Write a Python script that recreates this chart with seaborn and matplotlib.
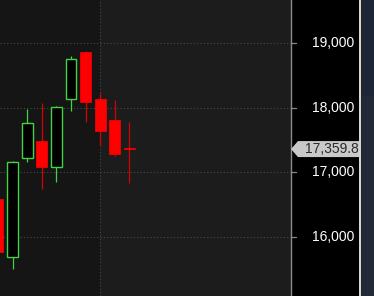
import matplotlib
matplotlib.use("Agg")
import matplotlib.pyplot as plt
from matplotlib.patches import Rectangle, Polygon
import seaborn as sns
import pandas as pd
import numpy as np

# ---- data ----
idx = [0, 1, 2, 3, 4, 5, 6, 7, 8, 9]
opens = [16589, 15692, 17223, 17485, 17083, 18134, 18861, 18134, 17810, 17375]
highs = [16620, 17180, 17980, 18073, 18020, 18800, 18870, 18227, 18119, 17779]
lows = [15740, 15507, 17161, 16743, 16852, 17949, 17779, 17423, 17253, 16836]
closes = [15770, 17161, 17764, 17083, 18011, 18753, 18088, 17640, 17284, 17359.8]
yticks = [16000, 17000, 18000, 19000]
ytick_labels = ["16,000", "17,000", "18,000", "19,000"]
last_price_label = "17,359.8"
last_price = 17359.8

df = pd.DataFrame({"i": idx, "open": opens, "high": highs, "low": lows, "close": closes})
df["up"] = df["close"] >= df["open"]

sns.set_theme(style="dark")
plt.rcParams["font.family"] = ["Liberation Sans", "DejaVu Sans"]

W, H = 374, 296
fig = plt.figure(figsize=(W / 100, H / 100), dpi=100)
fig.patch.set_facecolor("#000000")

ax = fig.add_axes([0, 0, 291 / W, 1])
ax.set_facecolor("#1c1c1c")
ax.set_xlim(0.137, 20.07)
ax.set_ylim(15088, 19665)

# darker left region
ax.axvspan(0.137, 6.99, color="#151515", zorder=0, lw=0)

# grid
for t in yticks:
    ax.axhline(t, color="#4a4a4a", lw=0.8, ls=(0, (1, 2)), zorder=1)
ax.axvline(6.99, color="#4a4a4a", lw=0.8, ls=(0, (1, 2)), zorder=1)

green = "#44d144"
red = "#ff0000"
bw = 0.75

for _, r in df.iterrows():
    if r["up"]:
        ax.vlines(r["i"], r["low"], r["high"], color=green, lw=0.9, zorder=2)
        ax.bar(r["i"], r["close"] - r["open"], bottom=r["open"], width=bw,
               facecolor="#000000", edgecolor=green, lw=1.0, zorder=3)
    else:
        ax.vlines(r["i"], r["low"], r["high"], color="#d80000", lw=0.9, zorder=2)
        hgt = r["open"] - r["close"]
        if hgt < 15:
            ax.hlines(r["close"], r["i"] - bw / 2, r["i"] + bw / 2, color="#d80000", lw=0.9, zorder=3)
        else:
            ax.bar(r["i"], hgt, bottom=r["close"], width=bw,
                   facecolor=red, edgecolor=red, lw=0.5, zorder=3)

ax.set_xticks([])
ax.set_yticks([])
for s in ["top", "left", "bottom"]:
    ax.spines[s].set_visible(False)
ax.spines["right"].set_visible(True)
ax.spines["right"].set_color("#8a8a8a")
ax.spines["right"].set_linewidth(1.0)

# tick marks and labels on the right
for t, lab in zip(yticks, ytick_labels):
    ax.plot([1.0, 1.0 + 5 / 291], [t, t], transform=ax.get_yaxis_transform(),
            color="#8a8a8a", lw=0.9, clip_on=False)
    ax.text(354 / 291, t, lab, transform=ax.get_yaxis_transform(), ha="right",
            va="center", color="#ffffff", fontsize=10, clip_on=False)

# right strip
fig.patches.append(Rectangle((359 / W, 0), 1.5 / W, 1, transform=fig.transFigure,
                             facecolor="#d8d6c4", lw=0))
fig.patches.append(Rectangle((360.5 / W, 0), (W - 360.5) / W, 1, transform=fig.transFigure,
                             facecolor="#1d2636", lw=0))
fig.patches.append(Rectangle((362 / W, 0), (W - 362) / W, (296 - 96) / H, transform=fig.transFigure,
                             facecolor="#222a38", lw=0))

# last price label
ypix = ax.transData.transform((0, last_price))[1]
yc = ypix / H
hh = 8 / H
poly = Polygon([(291 / W, yc), (298 / W, yc + hh), (359 / W, yc + hh),
                (359 / W, yc - hh), (298 / W, yc - hh)], closed=True,
               transform=fig.transFigure, facecolor="#c9c9c9", edgecolor="none")
fig.patches.append(poly)
fig.text(359 / W, yc, last_price_label, ha="right", va="center", color="#2a2a2a",
         fontsize=10)

fig.savefig("out.png", dpi=100, facecolor=fig.get_facecolor())
